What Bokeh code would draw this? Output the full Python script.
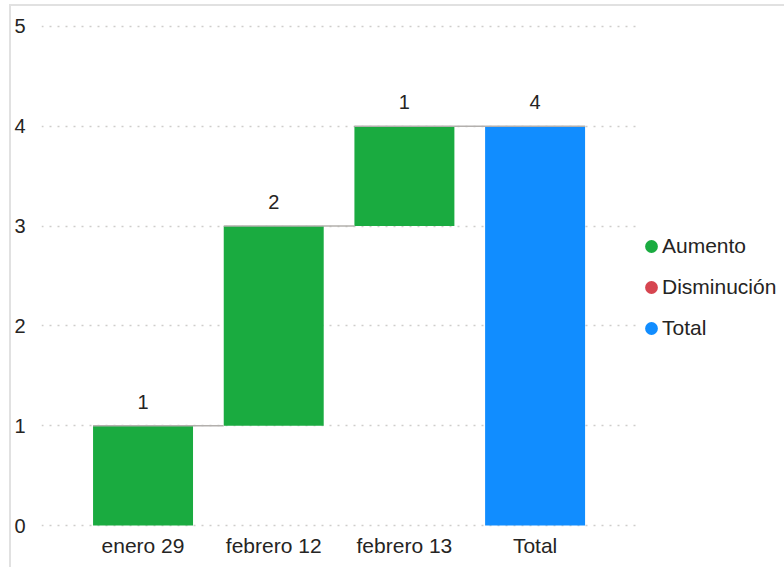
from bokeh.plotting import figure
from bokeh.models import (Range1d, FixedTicker, ColumnDataSource, Legend, LegendItem)
from bokeh.core.properties import value
from bokeh.embed import file_html
from bokeh.resources import INLINE

# ---- data ----
categories = ["enero 29", "febrero 12", "febrero 13", "Total"]
changes = [1, 2, 1]
legend_labels = ["Aumento", "Disminución", "Total"]
legend_colors = ["#1AAB40", "#D64550", "#118DFF"]
y_ticks = [0, 1, 2, 3, 4, 5]

# ---- derived waterfall geometry (from the data) ----
xs = list(range(len(categories)))
bottoms, tops, colors, labels = [], [], [], []
running = 0
for c in changes:
    b = running
    running += c
    bottoms.append(min(b, running))
    tops.append(max(b, running))
    colors.append(legend_colors[0] if c >= 0 else legend_colors[1])
    labels.append(str(c))
bottoms.append(0)
tops.append(running)
colors.append(legend_colors[2])
labels.append(str(running))
label_y = [max(b, t) for b, t in zip(bottoms, tops)]

BAR_W = 0.765
FONT = "Liberation Sans"
TXT = "#252423"

src = ColumnDataSource(dict(x=xs, bottom=bottoms, top=tops, color=colors,
                            label=labels, ly=label_y))

p = figure(frame_width=595, frame_height=514, output_backend="svg",
           toolbar_location=None,
           x_range=Range1d(-0.777, 3.776), y_range=Range1d(-0.05, 5.1),
           min_border_left=29, min_border_right=149, min_border_top=10,
           min_border_bottom=37)
p.outline_line_color = None
p.background_fill_color = "white"
p.border_fill_color = "white"
p.styles = {"margin-left": "9px", "margin-top": "4px",
            "border-left": "2px solid #e1e1e1", "border-top": "2px solid #e1e1e1"}

# grid
p.xgrid.visible = False
p.ygrid.grid_line_color = "#CFCDCB"
p.ygrid.grid_line_dash = "2 6"
p.ygrid.grid_line_width = 1.5
p.yaxis.ticker = FixedTicker(ticks=y_ticks)
p.xaxis.ticker = FixedTicker(ticks=xs)
p.xaxis.major_label_overrides = {i: c for i, c in enumerate(categories)}

for ax in (p.xaxis[0], p.yaxis[0]):
    ax.axis_line_color = None
    ax.major_tick_line_color = None
    ax.minor_tick_line_color = None
    ax.major_tick_out = 0
    ax.major_tick_in = 0
    ax.major_label_text_font = FONT
    ax.major_label_text_color = TXT
p.yaxis.major_label_text_font_size = "20px"
p.xaxis.major_label_text_font_size = "21px"
p.yaxis.major_label_standoff = 16
p.xaxis.major_label_standoff = 3

# bars
p.vbar(x="x", bottom="bottom", top="top", width=BAR_W, color="color",
       line_color=None, source=src)

# connector lines
cx0 = [xs[i] - BAR_W / 2 for i in range(len(changes))]
cx1 = [xs[i + 1] - BAR_W / 2 for i in range(len(changes))]
cy = [tops[i] if changes[i] >= 0 else bottoms[i] for i in range(len(changes))]
p.segment(x0=cx0, y0=cy, x1=cx1, y1=cy, line_color="#B3B0AD", line_width=1.5)
# total bar top edge
p.segment(x0=[xs[-1] - BAR_W / 2], y0=[tops[-1]], x1=[xs[-1] + BAR_W / 2],
          y1=[tops[-1]], line_color="#B3B0AD", line_width=1.5)

# value labels
p.text(x="x", y="ly", text="label", source=src, text_align="center",
       text_baseline="middle", y_offset=-24, text_font=value(FONT),
       text_font_size="20px", text_color=TXT)

# legend (swatch-only renderers with a NaN point so nothing is drawn in the frame)
items = []
for lab, col in zip(legend_labels, legend_colors):
    r = p.ellipse(x=[float("nan")], y=[float("nan")], width=13, height=13,
                  width_units="screen", height_units="screen",
                  fill_color=col, line_color=None)
    items.append(LegendItem(label=lab, renderers=[r]))
legend = Legend(items=items, location="top_left", orientation="vertical",
                title=" ", title_text_font_size="10px", title_standoff=200,
                glyph_width=16, glyph_height=16, label_height=24,
                spacing=17, padding=0, margin=7, label_standoff=3,
                border_line_color=None, background_fill_alpha=0,
                label_text_font=FONT, label_text_font_size="21px",
                label_text_color=TXT)
p.add_layout(legend, "right")

open("out.html", "w").write(file_html(p, INLINE))
